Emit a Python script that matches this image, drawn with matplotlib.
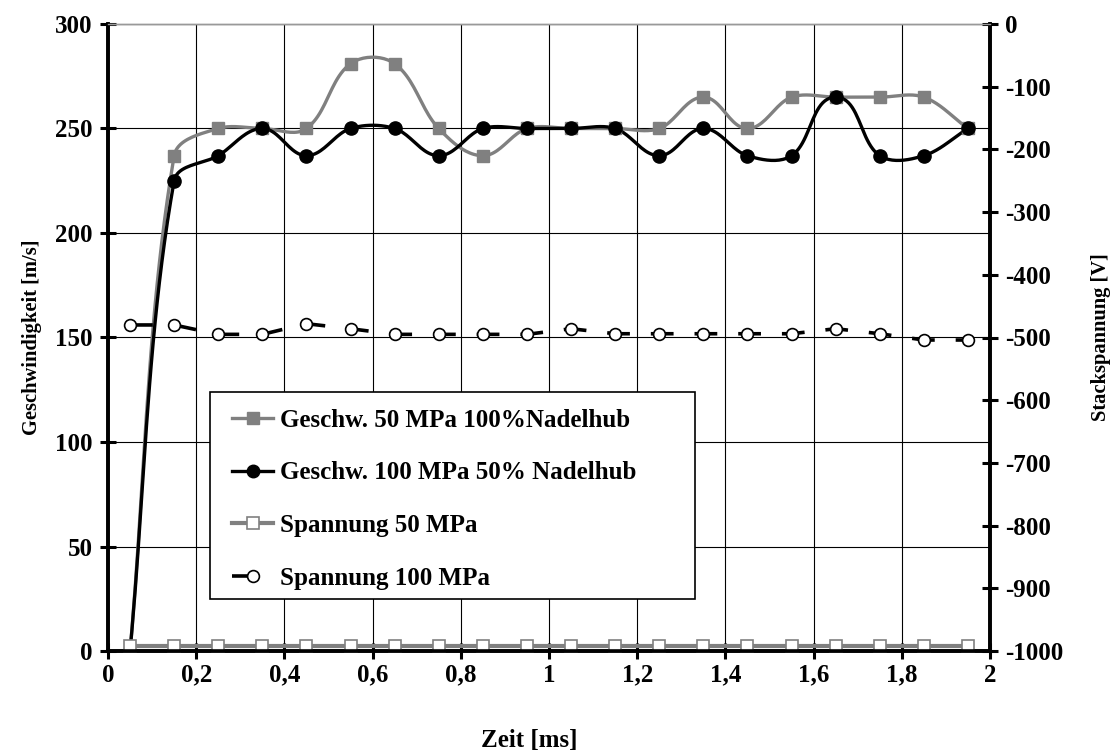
import numpy as np
import matplotlib
matplotlib.use("Agg")
import matplotlib.pyplot as plt
from matplotlib.patches import Rectangle
from matplotlib.ticker import FixedLocator, FuncFormatter

plt.rcParams['font.family'] = ['Liberation Serif', 'DejaVu Serif']
plt.rcParams['font.weight'] = 'bold'
plt.rcParams['axes.unicode_minus'] = False

# Zeit [ms]
zeit = [0.05, 0.15, 0.25, 0.35, 0.45, 0.55, 0.65, 0.75, 0.85, 0.95,
        1.05, 1.15, 1.25, 1.35, 1.45, 1.55, 1.65, 1.75, 1.85, 1.95]

# Geschwindigkeit [m/s]
geschw_50 = [0, 237, 250, 250, 250, 281, 281, 250, 237, 250,
             250, 250, 250, 265, 250, 265, 265, 265, 265, 250]
geschw_100 = [0, 225, 237, 250, 237, 250, 250, 237, 250, 250,
              250, 250, 237, 250, 237, 237, 265, 237, 237, 250]

# Stackspannung [V]
spannung_50 = [-992] * 20
spannung_100 = [-480, -480, -495, -495, -478, -486, -495, -495, -495, -495,
                -486, -494, -494, -494, -494, -494, -486, -494, -504, -504]

GRAY = '#808080'
W, H = 1120, 755
AX_L, AX_R, AX_T, AX_B = 108, 990, 24, 651


def smooth(x, y, xspan, yspan, n=24):
    # Excel like smoothed line, worked out in screen proportions
    sx = (AX_R - AX_L) / xspan
    sy = (AX_B - AX_T) / yspan
    p = np.column_stack([np.asarray(x, float) * sx, np.asarray(y, float) * sy])
    m = len(p)
    tang = np.zeros_like(p)
    for i in range(m):
        a = p[max(i - 1, 0)]
        b = p[min(i + 1, m - 1)]
        d = b - a
        tang[i] = d / np.hypot(*d)
    t = np.linspace(0, 1, n)[:, None]
    out = []
    for i in range(m - 1):
        p0, p3 = p[i], p[i + 1]
        L = np.hypot(*(p3 - p0))
        c1 = p0 + tang[i] * L / 3
        c2 = p3 - tang[i + 1] * L / 3
        seg = ((1 - t) ** 3 * p0 + 3 * (1 - t) ** 2 * t * c1
               + 3 * (1 - t) * t ** 2 * c2 + t ** 3 * p3)
        out.append(seg)
    out = np.vstack(out)
    return out[:, 0] / sx, out[:, 1] / sy


fig = plt.figure(figsize=(W / 100, H / 100), dpi=100)
ax = fig.add_axes([AX_L / W, 1 - AX_B / H, (AX_R - AX_L) / W, (AX_B - AX_T) / H])
ax2 = ax.twinx()

# Geschwindigkeit, smoothed lines with markers
sx, sy = smooth(zeit, geschw_50, 2, 300)
ax.plot(sx, sy, color=GRAY, lw=2.4, zorder=3, clip_on=False)
ax.plot(zeit[1:], geschw_50[1:], ls='none', marker='s', ms=9, color=GRAY, zorder=4)
sx, sy = smooth(zeit, geschw_100, 2, 300)
ax.plot(sx, sy, color='black', lw=2.4, zorder=3, clip_on=False)
ax.plot(zeit[1:], geschw_100[1:], ls='none', marker='o', ms=9.5, color='black', zorder=5)

h1, = ax.plot([], [], color=GRAY, lw=2.4, marker='s', ms=9)
h2, = ax.plot([], [], color='black', lw=2.4, marker='o', ms=9)

# Spannung on secondary axis
h3, = ax2.plot(zeit, spannung_50, color=GRAY, lw=3, marker='s', ms=8,
               mfc='white', mec=GRAY, mew=1.2, clip_on=False)
h4, = ax2.plot(zeit, spannung_100, color='black', lw=2.6, ls=(0, (6.3, 5.8)),
               marker='o', ms=8.5, mfc='white', mec='black', mew=1.2)

ax.set_xlim(0, 2)
ax.set_ylim(0, 300)
ax2.set_ylim(-1000, 0)

ax.xaxis.set_major_locator(FixedLocator(np.arange(0, 2.01, 0.2)))
ax.yaxis.set_major_locator(FixedLocator(np.arange(0, 301, 50)))
ax2.yaxis.set_major_locator(FixedLocator(np.arange(-1000, 1, 100)))


def komma(v, pos):
    s = '%g' % round(v, 1)
    return s.replace('.', ',')


ax.xaxis.set_major_formatter(FuncFormatter(komma))

ax.grid(True, color='black', lw=0.8)
ax.set_axisbelow(True)

for a in (ax, ax2):
    a.spines['left'].set_linewidth(2.6)
    a.spines['right'].set_linewidth(2.6)
    a.spines['bottom'].set_linewidth(2.6)
    a.spines['top'].set_linewidth(1)
    a.spines['top'].set_color('#999999')

ax.tick_params(axis='x', direction='inout', length=12, width=2.2, labelsize=18, pad=3)
ax.tick_params(axis='y', direction='inout', length=12, width=2.2, labelsize=18, pad=5)
ax2.tick_params(axis='y', direction='inout', length=12, width=2.2, labelsize=18, pad=5)

ax.set_xlabel('Zeit [ms]', fontsize=18, fontweight='bold')
ax.xaxis.set_label_coords(0.478, -0.124)
ax.set_ylabel('Geschwindigkeit [m/s]', fontsize=14.8, fontweight='bold')
ax.yaxis.set_label_coords(-0.075, 0.5)
ax2.set_ylabel('Stackspannung [V]', fontsize=14.8, fontweight='bold')
ax2.yaxis.set_label_coords(1.114, 0.5)

# legend frame like the original box
frame = Rectangle((210 / W, 1 - 599 / H), 485 / W, 207 / H, transform=fig.transFigure,
                  facecolor='white', edgecolor='black', lw=1.2, zorder=10, clip_on=False)
ax2.add_patch(frame)

leg = ax2.legend([h1, h2, h3, h4],
                 ['Geschw. 50 MPa 100%Nadelhub', 'Geschw. 100 MPa 50% Nadelhub',
                  'Spannung 50 MPa', 'Spannung 100 MPa'],
                 loc='upper left', bbox_to_anchor=(232 / W, 1 - 409 / H),
                 bbox_transform=fig.transFigure,
                 fontsize=18, frameon=False,
                 handlelength=1.65, handletextpad=0.25, labelspacing=1.18,
                 borderpad=0, borderaxespad=0)
leg.set_zorder(11)
for t in leg.get_texts():
    t.set_fontweight('bold')

fig.savefig('out.png', dpi=100)
